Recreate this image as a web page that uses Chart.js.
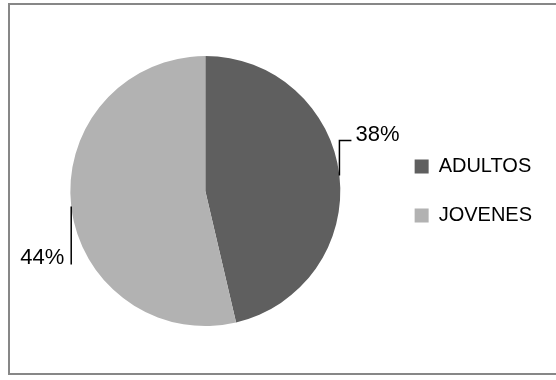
<!DOCTYPE html>
<html>
<head>
<meta charset="utf-8">
<script src="https://cdn.jsdelivr.net/npm/chart.js@4.4.1/dist/chart.umd.min.js"></script>
<style>
  body { margin: 0; background: #fff; }
  #wrap { position: relative; width: 556px; height: 380px; overflow: hidden; }
  #frame {
    position: absolute; left: 8px; top: 3px; width: 570px; height: 372px;
    border: 2px solid #878787; box-sizing: border-box;
  }
  canvas { position: absolute; left: 0; top: 0; }
</style>
</head>
<body>
<div id="wrap">
  <div id="frame"></div>
  <canvas id="chart" width="556" height="380"></canvas>
</div>
<script>
const categories = ['ADULTOS', 'JOVENES'];
const values = [38, 44];
const sliceColors = ['#5f5f5f', '#b2b2b2'];

// leader line shape per slice (Excel-style callouts)
const leaders = [
  { dy: -35, dx: 12, align: 'left' },
  { dy: 58, dx: 0, align: 'right' }
];

const ctx = document.getElementById('chart');

const chart = new Chart(ctx, {
  type: 'pie',
  data: {
    labels: categories,
    datasets: [{
      data: values,
      backgroundColor: sliceColors,
      borderWidth: 0,
      hoverOffset: 0
    }]
  },
  options: {
    responsive: false,
    animation: false,
    layout: {
      padding: { top: 56, bottom: 54, left: 25, right: 14 }
    },
    plugins: {
      legend: {
        position: 'right',
        labels: {
          boxWidth: 14,
          boxHeight: 14,
          padding: 29,
          color: '#000',
          font: { family: 'Liberation Sans', size: 20 }
        }
      },
      tooltip: { enabled: false }
    }
  },
  plugins: [
    {
      id: 'calloutLabels',
      afterDraw(chart) {
        const { ctx, data } = chart;
        const meta = chart.getDatasetMeta(0);

        ctx.save();
        ctx.font = '22px "Liberation Sans"';
        ctx.fillStyle = '#000';
        ctx.strokeStyle = '#000';
        ctx.lineWidth = 1.5;
        ctx.textBaseline = 'alphabetic';

        meta.data.forEach((arc, i) => {
          const mid = (arc.startAngle + arc.endAngle) / 2;
          const px = arc.x + Math.cos(mid) * arc.outerRadius;
          const py = arc.y + Math.sin(mid) * arc.outerRadius;
          const l = leaders[i];
          const ey = py + l.dy;
          const ex = px + l.dx;

          ctx.beginPath();
          ctx.moveTo(px, py);
          ctx.lineTo(px, ey);
          ctx.lineTo(ex, ey);
          ctx.stroke();

          const txt = data.datasets[0].data[i] + '%';
          ctx.textAlign = l.align;
          if (l.align === 'left') {
            ctx.fillText(txt, ex + 4, ey);
          } else {
            ctx.fillText(txt, ex - 7, ey);
          }
        });

        ctx.restore();
      }
    }
  ]
});
</script>
</body>
</html>
